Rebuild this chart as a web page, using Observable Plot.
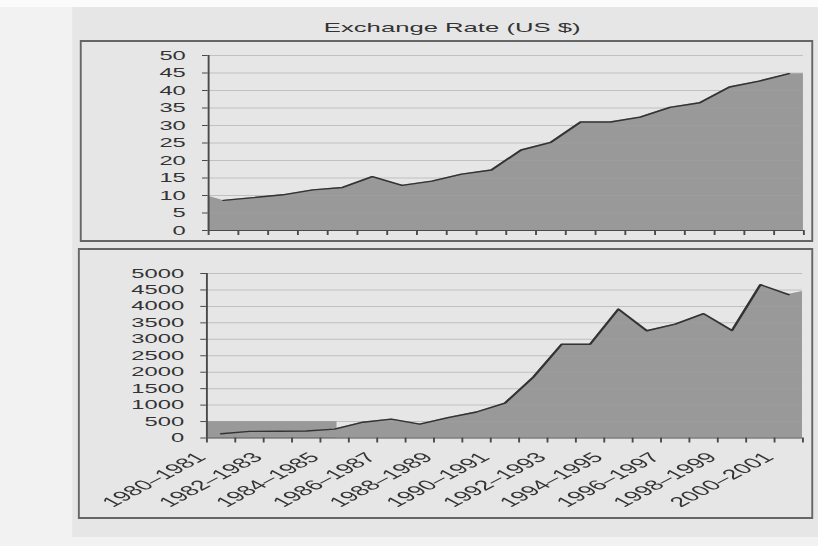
<!DOCTYPE html>
<html><head><meta charset="utf-8">
<script src="https://cdn.jsdelivr.net/npm/d3@7"></script>
<script src="https://cdn.jsdelivr.net/npm/@observablehq/plot@0.6"></script>
<style>
html,body{margin:0;padding:0;background:#f2f2f2;}
#page{position:relative;width:430.5px;height:546px;transform:scaleX(1.9);transform-origin:0 0;font-family:"Liberation Sans",Arial,sans-serif;color:#333;overflow:hidden}
.strip{position:absolute;left:0;top:0;width:430.5px;height:7px;background:#fbfbfb}
.sheet{position:absolute;left:38.4px;top:7px;width:400px;height:530px;background:#e6e6e6}
.frame{position:absolute;box-sizing:border-box;border:solid #666;border-width:2px 1px;}
#title{position:absolute;left:138px;width:200px;top:20px;text-align:center;font-size:13.5px;line-height:16px}
.chart{position:absolute;left:40px}
</style></head><body>
<div id="page">
 <div class="strip"></div>
 <div class="sheet"></div>
 <div id="title">Exchange Rate (US $)</div>
 <div class="frame" style="left:41.6px;top:40px;width:386px;height:202px"></div>
 <div class="frame" style="left:40.5px;top:248px;width:387px;height:271px"></div>
 <div class="chart" id="top" style="top:44px"></div>
 <div class="chart" id="bottom" style="top:252px"></div>
</div>
<script>
// ---- data ----
const periods = ["1980–1981","1981–1982","1982–1983","1983–1984","1984–1985","1985–1986","1986–1987",
  "1987–1988","1988–1989","1989–1990","1990–1991","1991–1992","1992–1993","1993–1994","1994–1995",
  "1995–1996","1996–1997","1997–1998","1998–1999","1999–2000","2000–2001"];
const exchangePeriods = periods.slice(0, 20);
const exchangeRate = [8.6, 9.4, 10.2, 11.6, 12.3, 15.4, 12.9, 14.1, 16.1, 17.3,
  23.0, 25.2, 31.0, 31.0, 32.4, 35.2, 36.5, 41.0, 42.7, 44.8];
const exchangeFillEnds = [9.8, 44.8];
const exchangeTicks = [0, 5, 10, 15, 20, 25, 30, 35, 40, 45, 50];

const sensexPeriods = periods;
const sensex = [130, 200, 205, 213, 270, 480, 575, 420, 620, 790,
  1060, 1850, 2850, 2850, 3920, 3260, 3460, 3780, 3270, 4660, 4360];
const sensexFillEnds = [130, 4450];
const sensexBand = [{from: 0, to: 4.6, value: 500}];
const sensexTicks = [0, 500, 1000, 1500, 2000, 2500, 3000, 3500, 4000, 4500, 5000];
const labelEvery = 2;

// ---- styles ----
const FILL = "#999999", LINE = "#333333", AXIS = "#4a4a4a", TEXT = "#333333";

function linePoints(vals) { return vals.map((v, i) => ({x: i + 0.5, y: v})); }
function areaPoints(vals, ends) {
  return [{x: 0, y: ends[0]}, ...linePoints(vals), {x: vals.length, y: ends[1]}];
}

function panel({vals, cats, ends, yTicks, band, labels, height, marginLeft, marginRight, marginTop, marginBottom}) {
  const n = cats.length;
  const bounds = d3.range(0, n + 1);
  const marks = [
    band ? Plot.rect(band, {x1: "from", x2: "to", y1: 0, y2: "value", fill: FILL}) : null,
    Plot.areaY(areaPoints(vals, ends), {x: "x", y: "y", fill: FILL}),
    Plot.gridY(yTicks.slice(1), {stroke: "#a0a0a0", strokeOpacity: 0.55, strokeWidth: 1}),
    Plot.lineY(linePoints(vals), {x: "x", y: "y", stroke: LINE, strokeWidth: 1.4}),
    Plot.ruleX([0], {stroke: AXIS, strokeWidth: 1}),
    Plot.ruleY([0], {stroke: AXIS, strokeWidth: 1}),
    Plot.axisY({ticks: yTicks, tickFormat: d => String(d), tickSize: 3, tickPadding: 9,
      stroke: AXIS, fill: TEXT, fontSize: 12.5, label: null}),
    Plot.axisX({ticks: bounds, tickSize: 5, stroke: AXIS, fill: "none", label: null})
  ];
  if (labels) {
    marks.push(Plot.axisX({
      ticks: bounds.filter(i => i < n && i % labelEvery === 0),
      tickFormat: i => cats[i], tickSize: 0, tickPadding: 17, tickRotate: -45, dx: -3,
      fill: TEXT, fontSize: 14, label: null
    }));
  }
  return Plot.plot({
    width: 385, height, marginLeft, marginRight, marginTop, marginBottom,
    style: {background: "transparent", fontFamily: "Liberation Sans, Arial, sans-serif", overflow: "visible"},
    x: {domain: [0, n], axis: null},
    y: {domain: [yTicks[0], yTicks[yTicks.length - 1]], axis: null},
    marks: marks.filter(Boolean)
  });
}

document.getElementById("top").append(panel({
  vals: exchangeRate, cats: exchangePeriods, ends: exchangeFillEnds, yTicks: exchangeTicks,
  labels: false, height: 196, marginLeft: 69.3, marginRight: 2.4, marginTop: 11, marginBottom: 10
}));
document.getElementById("bottom").append(panel({
  vals: sensex, cats: sensexPeriods, ends: sensexFillEnds, yTicks: sensexTicks, band: sensexBand,
  labels: true, height: 265, marginLeft: 68.4, marginRight: 2.9, marginTop: 21, marginBottom: 79.5
}));
</script>
</body></html>
